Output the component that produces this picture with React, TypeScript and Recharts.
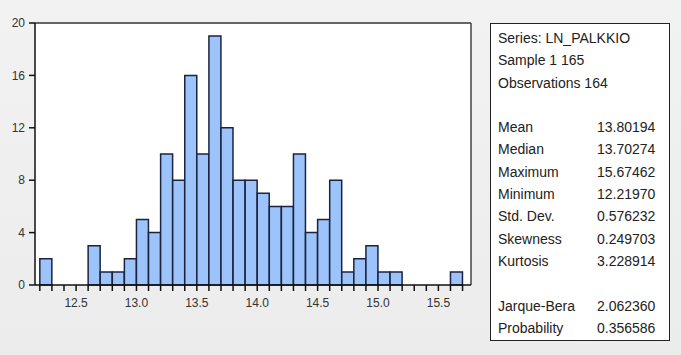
import React from "react";
import { BarChart, Bar, XAxis, YAxis, CartesianGrid, ReferenceLine } from "recharts";

// histogram bins of LN_PALKKIO (bin start, width 0.1)
const binStarts = [
  12.2, 12.3, 12.4, 12.5, 12.6, 12.7, 12.8, 12.9, 13.0, 13.1, 13.2, 13.3,
  13.4, 13.5, 13.6, 13.7, 13.8, 13.9, 14.0, 14.1, 14.2, 14.3, 14.4, 14.5,
  14.6, 14.7, 14.8, 14.9, 15.0, 15.1, 15.2, 15.3, 15.4, 15.5, 15.6,
];
const counts = [
  2, 0, 0, 0, 3, 1, 1, 2, 5, 4, 10, 8, 16, 10, 19, 12, 8, 8, 7, 6, 6, 10, 4, 5,
  8, 1, 2, 3, 1, 1, 0, 0, 0, 0, 1,
];
const xTicks = [
  12.2, 12.3, 12.4, 12.5, 12.6, 12.7, 12.8, 12.9, 13.0, 13.1, 13.2, 13.3,
  13.4, 13.5, 13.6, 13.7, 13.8, 13.9, 14.0, 14.1, 14.2, 14.3, 14.4, 14.5,
  14.6, 14.7, 14.8, 14.9, 15.0, 15.1, 15.2, 15.3, 15.4, 15.5, 15.6, 15.7,
];
const xLabels = ["12.5", "13.0", "13.5", "14.0", "14.5", "15.0", "15.5"];
const yTicks = [0, 4, 8, 12, 16, 20];
const xDomain = [12.16, 15.77];

const statsHeader = ["Series: LN_PALKKIO", "Sample 1 165", "Observations 164"];
const statNames = ["Mean", "Median", "Maximum", "Minimum", "Std. Dev.", "Skewness", "Kurtosis"];
const statValues = ["13.80194", "13.70274", "15.67462", "12.21970", "0.576232", "0.249703", "3.228914"];
const testNames = ["Jarque-Bera", "Probability"];
const testValues = ["2.062360", "0.356586"];

const data = binStarts.map((s, i) => ({ mid: s + 0.05, count: counts[i] }));

const FONT = "'Liberation Sans', Arial, sans-serif";
const LINE = 22.3;

const StatRow = ({ name, value }: { name: string; value?: string }) => (
  <div style={{ position: "relative", height: LINE, lineHeight: `${LINE}px` }}>
    <span>{name}</span>
    {value && <span style={{ position: "absolute", left: 99 }}>{value}</span>}
  </div>
);

export default function App() {
  return (
    <div
      style={{
        position: "absolute",
        left: 0,
        top: 0,
        width: 681,
        height: 355,
        background: "linear-gradient(#f2f2f2, #ececec)",
        fontFamily: FONT,
      }}
    >
      <BarChart
        width={681}
        height={355}
        data={data}
        margin={{ top: 23, right: 210, bottom: 0, left: 0 }}
        barCategoryGap={0}
        barGap={0}
      >
        <CartesianGrid fill="#ffffff" horizontal={false} vertical={false} />
        <XAxis
          dataKey="mid"
          type="number"
          domain={xDomain}
          ticks={xTicks}
          interval={0}
          height={70}
          tickSize={6}
          tickMargin={7}
          axisLine={{ stroke: "#111", strokeWidth: 1.5 }}
          tickLine={{ stroke: "#111", strokeWidth: 1.5 }}
          tick={{ fill: "#333", fontSize: 12, fontFamily: FONT }}
          tickFormatter={(v: number) => {
            const s = Number(v).toFixed(1);
            return xLabels.includes(s) ? s : "";
          }}
        />
        <YAxis
          type="number"
          domain={[0, 20]}
          ticks={yTicks}
          interval={0}
          width={35}
          tickSize={6}
          tickMargin={4}
          axisLine={{ stroke: "#111", strokeWidth: 1.5 }}
          tickLine={{ stroke: "#111", strokeWidth: 1.5 }}
          tick={{ fill: "#333", fontSize: 12, fontFamily: FONT }}
        />
        <Bar
          dataKey="count"
          fill="#9cc3fa"
          stroke="#1b2340"
          strokeWidth={1.5}
          isAnimationActive={false}
        />
        {/* frame: top and right edges of the plot box */}
        <ReferenceLine y={20} stroke="#333" strokeWidth={1.5} />
        <ReferenceLine x={xDomain[1]} stroke="#444" strokeWidth={1.5} />
      </BarChart>

      <div
        style={{
          position: "absolute",
          left: 490,
          top: 23,
          width: 180,
          height: 318,
          background: "#ffffff",
          border: "1.5px solid #222",
          boxSizing: "border-box",
          padding: "3px 0 0 7px",
          fontSize: 14,
          color: "#222",
        }}
      >
        {statsHeader.map((t) => (
          <StatRow key={t} name={t} />
        ))}
        <StatRow name="" />
        {statNames.map((n, i) => (
          <StatRow key={n} name={n} value={statValues[i]} />
        ))}
        <StatRow name="" />
        {testNames.map((n, i) => (
          <StatRow key={n} name={n} value={testValues[i]} />
        ))}
      </div>
    </div>
  );
}
